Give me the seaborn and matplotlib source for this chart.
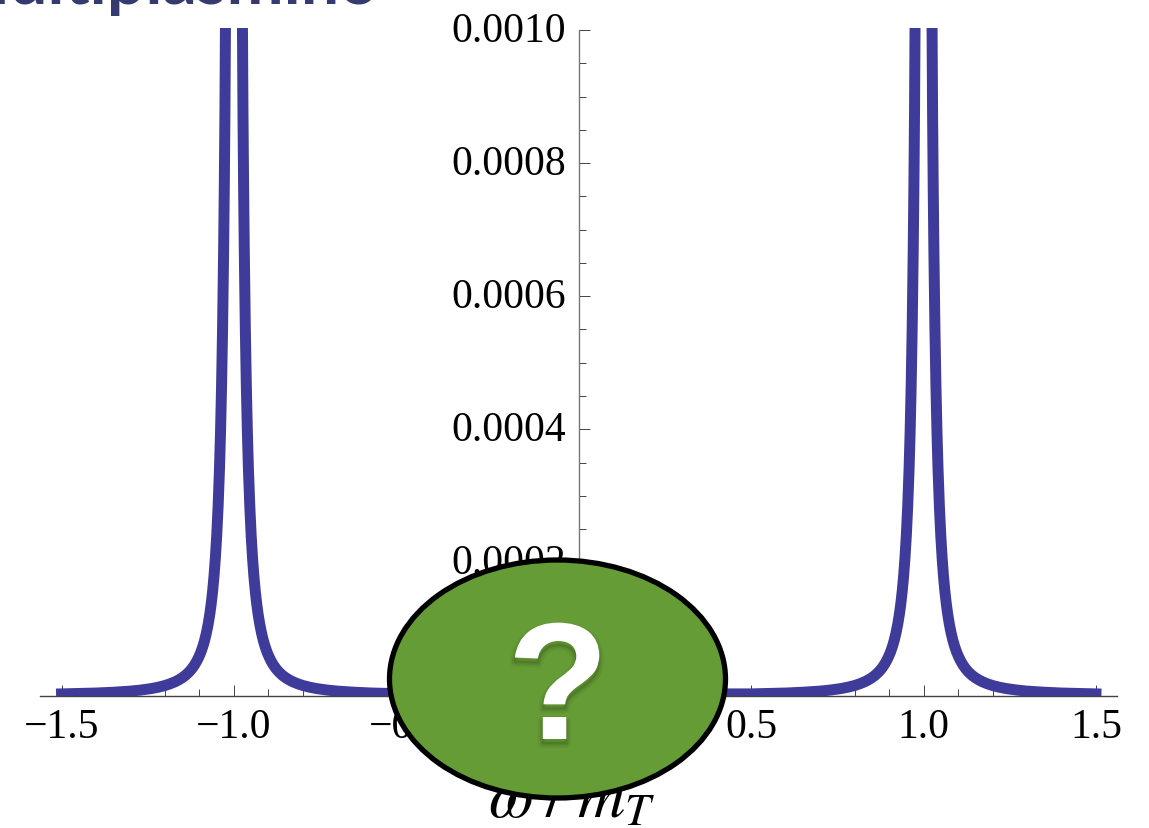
import numpy as np
import pandas as pd
import matplotlib
matplotlib.use("Agg")
import matplotlib.pyplot as plt
import seaborn as sns
from matplotlib.patches import Ellipse
from matplotlib.ticker import FixedLocator, FuncFormatter
from matplotlib.transforms import ScaledTranslation
import matplotlib.patheffects as pe

W, H = 1149, 829

# values (right-hand peak; the left one mirrors it)
offset = [-0.500, -0.450, -0.400, -0.350, -0.300, -0.270, -0.240, -0.220, -0.200, -0.185, -0.170,
          -0.160, -0.150, -0.140, -0.130, -0.122, -0.115, -0.108, -0.102, -0.096, -0.090, -0.085,
          -0.080, -0.075, -0.070, -0.066, -0.062, -0.058, -0.054, -0.050, -0.046, -0.042, -0.039,
          -0.036, -0.033, -0.030, -0.028, -0.0262, -0.0247, -0.022, -0.018, -0.012, 0.0]
height = [0.0000024, 0.0000030, 0.0000037, 0.0000049, 0.0000066, 0.0000082, 0.0000104, 0.0000124,
          0.0000150, 0.0000176, 0.0000208, 0.0000235, 0.0000267, 0.0000306, 0.0000355, 0.0000403,
          0.0000454, 0.0000515, 0.0000578, 0.0000651, 0.0000741, 0.0000830, 0.0000938, 0.0001067,
          0.0001224, 0.0001377, 0.0001561, 0.0001783, 0.0002058, 0.0002400, 0.0002836, 0.0003401,
          0.0003945, 0.0004630, 0.0005510, 0.0006670, 0.0007650, 0.0008740, 0.0010000, 0.0012500,
          0.0018500, 0.0042000, 0.0060000]

x_major = [-1.5, -1.0, -0.5, 0.5, 1.0, 1.5]
x_minor = [-1.4, -1.3, -1.2, -1.1, -0.9, -0.8, -0.7, -0.6, -0.4, -0.3, -0.2, -0.1, 0.0,
           0.1, 0.2, 0.3, 0.4, 0.6, 0.7, 0.8, 0.9, 1.1, 1.2, 1.3, 1.4]
y_major = [0.0002, 0.0004, 0.0006, 0.0008, 0.0010]
y_minor = [0.00005, 0.00010, 0.00015, 0.00025, 0.00030, 0.00035, 0.00045, 0.00050, 0.00055,
           0.00065, 0.00070, 0.00075, 0.00085, 0.00090, 0.00095]

title_fragment = "Multiplasmino"
x_label = r"$\omega\;/\;m_T$"

LINE = "#3f3b9a"
GREEN = "#669c35"
NAVY = "#363b6f"

off = np.array(offset)
hgt = np.array(height)
left = pd.DataFrame({"w": np.r_[-1.0 + off, -1.0 - off[::-1]], "s": np.r_[hgt, hgt[::-1]]})
right = pd.DataFrame({"w": np.r_[1.0 + off, 1.0 - off[::-1]], "s": np.r_[hgt, hgt[::-1]]})
mid = pd.concat([left, right], ignore_index=True)

sns.set_theme(style="white")
plt.rcParams["font.family"] = ["Liberation Serif", "DejaVu Serif"]
plt.rcParams["mathtext.fontset"] = "stix"

fig = plt.figure(figsize=(W / 100, H / 100), dpi=100, facecolor="white")
L, R, T, B = 40, 1117, 29, 696.5
ax = fig.add_axes([L / W, 1 - B / H, (R - L) / W, (B - T) / H])
ax.patch.set_alpha(0)

sns.lineplot(data=mid, x="w", y="s", ax=ax, color=LINE, lw=7.9, estimator=None, sort=False,
             solid_capstyle="projecting", solid_joinstyle="round")
ax.set_xlabel("")
ax.set_ylabel("")

px_per_x = 344.8
x0 = 578.75
ax.set_xlim((L - x0) / px_per_x, (R - x0) / px_per_x)
ax.set_ylim(0, 0.001 * (B - T) / 665.5)

for s in ("top", "right"):
    ax.spines[s].set_visible(False)
ax.spines["left"].set_position(("data", 0))
ax.spines["left"].set_color("#777777")
ax.spines["left"].set_linewidth(1.0)
ax.spines["left"].set_bounds(0, 0.001)
ax.spines["bottom"].set_color("#444444")
ax.spines["bottom"].set_linewidth(1.0)

ax.xaxis.set_major_locator(FixedLocator(x_major))
ax.xaxis.set_minor_locator(FixedLocator(x_minor))
ax.yaxis.set_major_locator(FixedLocator(y_major))
ax.yaxis.set_minor_locator(FixedLocator(y_minor))
ax.xaxis.set_major_formatter(FuncFormatter(lambda v, p: f"{v:.1f}".replace("-", "\u2212")))
ax.yaxis.set_major_formatter(FuncFormatter(lambda v, p: f"{v:.4f}"))

ax.tick_params(axis="x", which="major", direction="in", length=8, width=0.7, color="#444444",
               labelsize=30, labelcolor="black", pad=9, bottom=True)
ax.tick_params(axis="x", which="minor", direction="in", length=4.7, width=0.7, color="#444444", bottom=True)
ax.tick_params(axis="y", which="major", direction="in", length=8, width=0.7, color="#444444",
               labelsize=30, labelcolor="black", pad=9, left=True)
ax.tick_params(axis="y", which="minor", direction="in", length=4.7, width=0.7, color="#444444", left=True)
lift = ScaledTranslation(0, 4 / 100, fig.dpi_scale_trans)
for lab in ax.get_yticklabels():
    lab.set_transform(lab.get_transform() + lift)

# overlay in image pixels for the slide decorations
ov = fig.add_axes([0, 0, 1, 1], zorder=5)
ov.set_xlim(0, W)
ov.set_ylim(H, 0)
ov.axis("off")
ov.patch.set_alpha(0)

ov.text(572, 817, x_label, fontsize=47, ha="center", va="baseline", color="black")
ov.text(379, 4, title_fragment, fontsize=49, fontweight="bold", family="Lato",
        color=NAVY, ha="right", va="baseline", clip_on=False)

ov.add_patch(Ellipse((557.5, 680), 336, 238, facecolor=GREEN, edgecolor="black", lw=3.8, zorder=6))
q = ov.text(558, 740, "?", fontsize=120, fontweight="bold", family="Liberation Sans", color="white",
            ha="center", va="baseline", zorder=7)
q.set_path_effects([
    pe.SimpleLineShadow(offset=(0, -3), shadow_color="black", alpha=0.05, linewidth=7),
    pe.SimpleLineShadow(offset=(0, -3), shadow_color="black", alpha=0.07, linewidth=4),
    pe.SimpleLineShadow(offset=(0, -3), shadow_color="black", alpha=0.10, linewidth=1.5),
    pe.Normal(),
])

fig.savefig("out.png", dpi=100, facecolor="white")
